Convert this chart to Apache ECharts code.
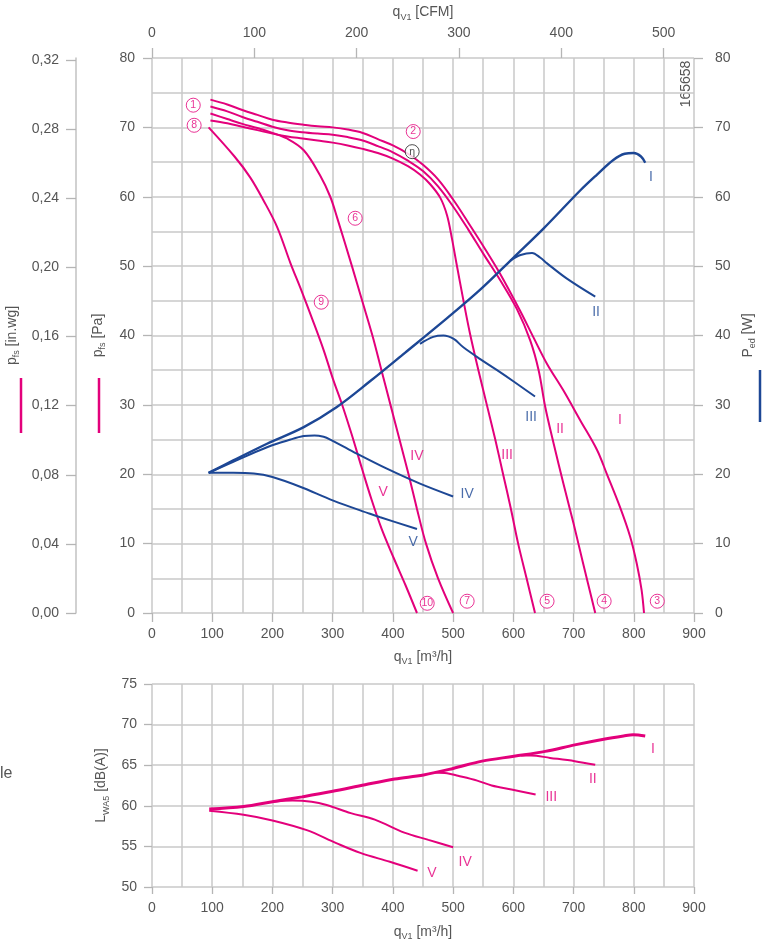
<!DOCTYPE html>
<html><head><meta charset="utf-8">
<script src="https://cdn.jsdelivr.net/npm/echarts@6/dist/echarts.min.js"></script>
<style>html,body{margin:0;padding:0;background:#fff}#c{width:762px;height:943px}</style>
</head><body><div id="c"></div>
<script>
// ---------- data (flow q in m3/h) ----------
const flowTicks = [0,100,200,300,400,500,600,700,800,900];
const cfmTicks = [0,100,200,300,400,500];
const inwgTicks = [0,0.04,0.08,0.12,0.16,0.20,0.24,0.28,0.32];
const M3H_PER_CFM = 1.69901;
const PA_PER_INWG = 249.089;

// static pressure pfs [Pa]
const pressureI = [[97,74.0],[125,73.3],[150,72.5],[175,71.8],[200,71.1],[225,70.7],[250,70.4],[275,70.15],[300,70.0],[325,69.7],[350,69.2],[375,68.3],[400,67.4],[425,66.2],[450,64.6],[475,62.5],[500,59.6],[525,56.3],[550,52.9],[578,48.9],[611,43.6],[633,39.8],[656,35.9],[683,32.1],[711,27.8],[739,23.5],[755,20.1],[777,15.3],[794,11.0],[805,7.1],[813,3.3],[817,0]];
const pressureII = [[97,73.0],[125,72.3],[150,71.5],[175,70.8],[200,70.1],[225,69.6],[250,69.3],[275,69.1],[300,68.95],[325,68.6],[350,68.1],[375,67.3],[400,66.4],[425,65.2],[450,63.7],[475,61.5],[500,58.6],[525,55.3],[550,51.8],[578,48.0],[606,43.8],[628,39.3],[642,35.0],[653,29.7],[667,24.4],[683,18.7],[700,12.9],[716,7.1],[736,0]];
const pressureIII = [[97,71.0],[125,70.6],[150,70.1],[175,69.6],[200,69.1],[225,68.7],[250,68.4],[275,68.1],[300,67.8],[325,67.4],[350,66.9],[375,66.3],[400,65.5],[425,64.4],[445,63.2],[462,61.8],[479,59.8],[490,57.3],[498,54.0],[506,50.2],[517,45.1],[528,40.3],[542,35.0],[556,30.0],[570,25.0],[583,20.0],[596,15.0],[608,10.0],[622,5.0],[636,0]];
const pressureIV = [[97,72.0],[125,71.2],[150,70.5],[175,69.9],[200,69.2],[224,68.4],[252,66.7],[279,63.1],[296,60.0],[307,57.1],[332,50.0],[349,45.0],[366,40.0],[381,35.0],[396,30.0],[411,25.0],[426,20.0],[440,15.0],[455,10.0],[475,5.0],[500,0]];
const pressureV = [[94,70.0],[137,65.8],[163,62.8],[185,59.5],[208,55.6],[230,50.4],[248,46.5],[266,42.4],[285,37.9],[301,33.6],[315,30.2],[331,25.9],[348,21.0],[364,16.5],[381,12.2],[401,8.0],[421,4.0],[440,0]];

// power consumption Ped [W]
const powerI = [[94,20.2],[135,22.0],[191,24.4],[252,26.8],[307,29.7],[362,33.4],[420,37.5],[490,42.5],[545,46.6],[600,51.2],[650,55.4],[711,60.9],[739,63.2],[766,65.3],[785,66.2],[800,66.3],[812,65.8],[819,64.9]];
const powerII = [[595,50.8],[612,51.6],[631,51.9],[645,51.2],[656,50.4],[689,48.2],[736,45.6]];
const powerIII = [[445,38.8],[467,39.8],[484,40.0],[501,39.5],[517,38.3],[545,36.6],[573,35.0],[600,33.4],[636,31.2]];
const powerIV = [[94,20.2],[135,21.8],[191,23.9],[230,25.0],[252,25.5],[270,25.6],[285,25.4],[296,25.0],[335,23.2],[390,20.8],[445,18.65],[500,16.8]];
const powerV = [[94,20.2],[135,20.2],[169,20.1],[200,19.6],[246,18.2],[301,16.2],[362,14.3],[379,13.8],[440,12.1]];

// sound power LWA5 [dB(A)]
const soundI = [[95,59.6],[152,59.9],[200,60.5],[249,61.1],[298,61.75],[354,62.6],[403,63.3],[451,63.8],[500,64.6],[548,65.5],[601,66.1],[653,66.7],[702,67.5],[750,68.2],[783,68.6],[799,68.75],[819,68.6]];
const soundII = [[613,66.2],[629,66.2],[661,65.9],[702,65.5],[736,65.05]];
const soundIII = [[470,64.1],[490,64.0],[508,63.7],[540,63.1],[564,62.5],[597,62.0],[637,61.4]];
const soundIV = [[200,60.5],[233,60.65],[265,60.5],[290,60.1],[330,59.1],[370,58.3],[419,56.7],[459,55.8],[500,54.9]];
const soundV = [[95,59.4],[152,58.9],[200,58.2],[257,57.0],[306,55.4],[346,54.2],[395,53.1],[441,52.0]];

// annotations [text, q, value]
const circleLabels = [['1',68.5,73.2],['8',70,70.3],['2',433.8,69.4],['6',337.4,56.9],['9',281,44.8],['3',839,1.7],['4',750.8,1.7],['5',656,1.7],['7',523.3,1.7],['10',457,1.4]];
const etaLabels = [['η',432,66.5]];
const pressureStageLabels = [['I',777,27.8],['II',677.6,26.5],['III',589.7,22.7],['IV',440,22.6],['V',383.9,17.4]];
const powerStageLabels = [['I',828.7,62.8],['II',737.4,43.3],['III',629.5,28.3],['IV',523.3,17.2],['V',433.8,10.2]];
const soundStageLabels = [['I',832,67.0],['II',732,63.3],['III',663,61.1],['IV',520,53.1],['V',465,51.7]];

// ---------- styling ----------
const MAG = '#e3007b';
const BLUE = '#1d4795';
const GRID = '#c9c9c9';
const TXT = '#555555';
const FONT = '"Liberation Sans", Arial, sans-serif';

const richName = {
  a: {fontSize: 14, color: TXT, fontFamily: FONT, lineHeight: 18, verticalAlign: 'middle'},
  b: {fontSize: 9, color: TXT, fontFamily: FONT, lineHeight: 9, verticalAlign: 'bottom'}
};
const nameStyle = {color: TXT, fontFamily: FONT, fontSize: 14, rich: richName};
const lbl = (extra) => Object.assign({color: TXT, fontFamily: FONT, fontSize: 14}, extra || {});
const tick = (len, extra) => Object.assign({show: true, length: len, lineStyle: {color: '#b5b5b5', width: 1.3}}, extra || {});
const split = {show: true, lineStyle: {color: GRID, width: 1.5}};
const noLine = {show: false, onZero: false};

const line = (data, color, xi, yi, w) => ({
  type: 'line', data: data, xAxisIndex: xi, yAxisIndex: yi,
  showSymbol: false, smooth: 0.35, silent: true, animation: false,
  lineStyle: {color: color, width: w || 2}, z: 3
});
const circles = (arr, color) => ({
  type: 'scatter', xAxisIndex: 0, yAxisIndex: 0, silent: true, animation: false, z: 6,
  data: arr.map(d => ({value: [d[1], d[2]], name: d[0]})),
  symbol: 'circle', symbolSize: 14,
  itemStyle: {color: '#fff', borderColor: color, borderWidth: 1},
  label: {show: true, position: 'inside', formatter: p => p.name, color: color,
          fontSize: 10.5, fontFamily: FONT}
});
const texts = (arr, color, xi, yi) => ({
  type: 'scatter', xAxisIndex: xi, yAxisIndex: yi, silent: true, animation: false, z: 6,
  data: arr.map(d => ({value: [d[1], d[2]], name: d[0]})),
  symbol: 'circle', symbolSize: 1, itemStyle: {color: 'rgba(0,0,0,0)'},
  label: {show: true, position: 'inside', formatter: p => p.name, color: color,
          fontSize: 14, fontFamily: FONT}
});

const chart = echarts.init(document.getElementById('c'), null, {renderer: 'canvas'});
chart.setOption({
  animation: false,
  backgroundColor: '#fff',
  textStyle: {fontFamily: FONT},
  grid: [
    {left: 152, top: 58, width: 542, height: 555, outerBoundsMode: 'none'},
    {left: 152, top: 684, width: 542, height: 203, outerBoundsMode: 'none'}
  ],
  xAxis: [
    {gridIndex: 0, type: 'value', position: 'bottom', min: flowTicks[0], max: flowTicks[flowTicks.length-1], interval: 100,
     axisLine: noLine, axisTick: tick(9), axisLabel: lbl({margin: 14}),
     splitLine: split, minorTick: {show: false, splitNumber: 2}, minorSplitLine: split,
     name: '{a|q}{b|V1}{a| [m³/h]}', nameLocation: 'middle', nameGap: 35, nameTextStyle: nameStyle},
    {gridIndex: 0, type: 'value', position: 'top', min: 0, max: 900 / M3H_PER_CFM,
     axisLine: noLine, axisTick: tick(10, {customValues: cfmTicks}),
     axisLabel: lbl({margin: 17.5, customValues: cfmTicks}), splitLine: {show: false},
     name: '{a|q}{b|V1}{a| [CFM]}', nameLocation: 'middle', nameGap: 35, nameTextStyle: nameStyle},
    {gridIndex: 1, type: 'value', position: 'bottom', min: flowTicks[0], max: flowTicks[flowTicks.length-1], interval: 100,
     axisLine: noLine, axisTick: tick(7), axisLabel: lbl({margin: 14}),
     splitLine: split, minorTick: {show: false, splitNumber: 2}, minorSplitLine: split,
     name: '{a|q}{b|V1}{a| [m³/h]}', nameLocation: 'middle', nameGap: 36, nameTextStyle: nameStyle}
  ],
  yAxis: [
    {gridIndex: 0, type: 'value', position: 'left', min: 0, max: 80, interval: 10,
     axisLine: noLine, axisTick: tick(9), axisLabel: lbl({margin: 17}),
     splitLine: split, minorTick: {show: false, splitNumber: 2}, minorSplitLine: split,
     name: '{a|p}{b|fs}{a| [Pa]}', nameLocation: 'middle', nameGap: 45, nameRotate: 90, nameTextStyle: nameStyle},
    {gridIndex: 0, type: 'value', position: 'right', min: 0, max: 80, interval: 10,
     axisLine: noLine, axisTick: tick(9), axisLabel: lbl({margin: 21}),
     splitLine: {show: false},
     name: '{a|P}{b|ed}{a| [W]}', nameLocation: 'middle', nameGap: 45, nameRotate: 90, nameTextStyle: nameStyle},
    {gridIndex: 0, type: 'value', position: 'left', offset: 76, min: 0, max: 80 / PA_PER_INWG,
     axisLine: {show: true, onZero: false, lineStyle: {color: '#c2c2c2', width: 1.5}},
     axisTick: tick(10, {customValues: inwgTicks}),
     axisLabel: lbl({margin: 17, customValues: inwgTicks, formatter: v => v.toFixed(2).replace('.', ',')}),
     splitLine: {show: false},
     name: '{a|p}{b|fs}{a| [in.wg]}', nameLocation: 'middle', nameGap: 46, nameRotate: 90, nameTextStyle: nameStyle},
    {gridIndex: 1, type: 'value', position: 'left', min: 50, max: 75, interval: 5,
     axisLine: noLine, axisTick: tick(8), axisLabel: lbl({margin: 15}),
     splitLine: split,
     name: '{a|L}{b|WA5}{a| [dB(A)]}', nameLocation: 'middle', nameGap: 41, nameRotate: 90, nameTextStyle: nameStyle}
  ],
  series: [
    line(pressureI, MAG, 0, 0), line(pressureII, MAG, 0, 0), line(pressureIII, MAG, 0, 0),
    line(pressureIV, MAG, 0, 0), line(pressureV, MAG, 0, 0),
    line(powerI, BLUE, 0, 1, 2.4), line(powerII, BLUE, 0, 1), line(powerIII, BLUE, 0, 1),
    line(powerIV, BLUE, 0, 1), line(powerV, BLUE, 0, 1),
    line(soundI, MAG, 2, 3, 3), line(soundII, MAG, 2, 3), line(soundIII, MAG, 2, 3),
    line(soundIV, MAG, 2, 3), line(soundV, MAG, 2, 3),
    circles(circleLabels, MAG), circles(etaLabels, '#222'),
    texts(pressureStageLabels, MAG, 0, 0), texts(powerStageLabels, BLUE, 0, 1),
    texts(soundStageLabels, MAG, 2, 3)
  ],
  graphic: [
    {type: 'line', shape: {x1: 21, y1: 378, x2: 21, y2: 433}, style: {stroke: MAG, lineWidth: 2.5}, silent: true},
    {type: 'line', shape: {x1: 99, y1: 378, x2: 99, y2: 433}, style: {stroke: MAG, lineWidth: 2.5}, silent: true},
    {type: 'line', shape: {x1: 760, y1: 370, x2: 760, y2: 422}, style: {stroke: BLUE, lineWidth: 2.5}, silent: true},
    {type: 'text', x: 686, y: 84, rotation: Math.PI / 2, silent: true,
     style: {text: '165658', fill: TXT, font: '14px ' + FONT, textAlign: 'center', textVerticalAlign: 'middle'}},
    {type: 'text', x: 0, y: 774, silent: true,
     style: {text: 'le', fill: TXT, font: '16px ' + FONT, textAlign: 'left', textVerticalAlign: 'middle'}}
  ]
});
</script>
</body></html>
